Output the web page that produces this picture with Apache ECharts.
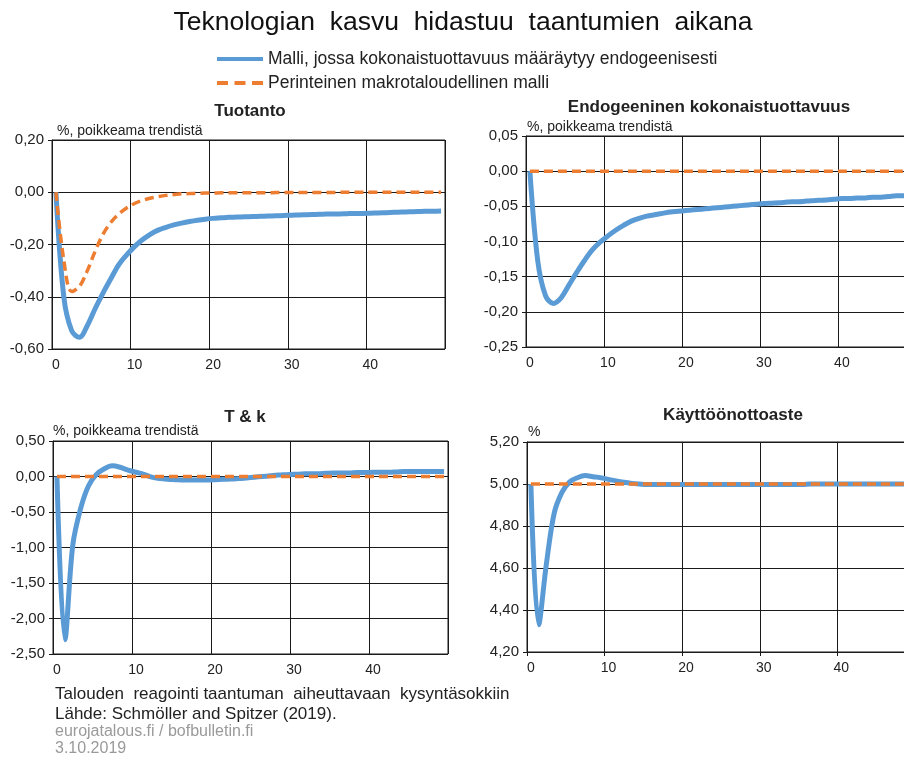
<!DOCTYPE html>
<html>
<head>
<meta charset="utf-8">
<script src="https://cdn.jsdelivr.net/npm/echarts@6/dist/echarts.min.js"></script>
<style>html,body{margin:0;padding:0;background:#fff}#c{width:904px;height:758px}</style>
</head>
<body>
<div id="c"></div>
<script>
const periods = [0,1,2,3,4,5,6,7,8,9,10,11,12,13,14,15,16,17,18,19,20,21,22,23,24,25,26,27,28,29,30,31,32,33,34,35,36,37,38,39,40,41,42,43,44,45,46,47,48,49];

const seriesNames = ['Malli, jossa kokonaistuottavuus määräytyy endogeenisesti', 'Perinteinen makrotaloudellinen malli'];

// Tuotanto
const tuotantoMalli = [0,-0.40,-0.53,-0.555,-0.51,-0.445,-0.385,-0.33,-0.277,-0.24,
  -0.208,-0.182,-0.161,-0.145,-0.134,-0.125,-0.118,-0.112,-0.107,-0.103,
  -0.100,-0.098,-0.096,-0.095,-0.094,-0.093,-0.092,-0.091,-0.090,-0.089,
  -0.088,-0.087,-0.086,-0.085,-0.084,-0.083,-0.083,-0.082,-0.081,-0.081,
  -0.080,-0.079,-0.078,-0.077,-0.076,-0.075,-0.074,-0.073,-0.073,-0.072];
const tuotantoPerint = [0,-0.26,-0.38,-0.36,-0.30,-0.225,-0.16,-0.115,-0.083,-0.06,
  -0.043,-0.031,-0.023,-0.017,-0.012,-0.009,-0.006,-0.005,-0.004,-0.003,
  -0.003,-0.002,-0.002,-0.002,-0.002,-0.002,-0.002,-0.002,-0.001,-0.001,
  -0.001,-0.001,-0.001,-0.001,-0.001,-0.001,0,0,0,0,
  0,0,0,0,0,0,0,0,0,0];

// Endogeeninen kokonaistuottavuus
const endogMalli = [0,-0.127,-0.177,-0.188,-0.180,-0.162,-0.144,-0.127,-0.112,-0.101,
  -0.092,-0.084,-0.077,-0.071,-0.067,-0.064,-0.062,-0.060,-0.058,-0.057,
  -0.056,-0.055,-0.054,-0.053,-0.052,-0.051,-0.050,-0.049,-0.048,-0.047,
  -0.046,-0.0455,-0.045,-0.044,-0.0435,-0.043,-0.042,-0.0415,-0.041,-0.040,
  -0.039,-0.039,-0.038,-0.038,-0.037,-0.037,-0.036,-0.035,-0.035,-0.034];
const endogPerint = [0,0,0,0,0,0,0,0,0,0,0,0,0,0,0,0,0,0,0,0,0,0,0,0,0,
  0,0,0,0,0,0,0,0,0,0,0,0,0,0,0,0,0,0,0,0,0,0,0,0,0];

// T & k
const tkMalli = [0,-2.30,-0.97,-0.45,-0.13,0.03,0.11,0.15,0.13,0.09,
  0.06,0.03,-0.01,-0.03,-0.04,-0.045,-0.05,-0.05,-0.05,-0.05,
  -0.045,-0.04,-0.035,-0.03,-0.02,-0.01,0.0,0.01,0.02,0.025,
  0.03,0.035,0.04,0.04,0.045,0.05,0.05,0.05,0.055,0.055,
  0.06,0.06,0.06,0.065,0.07,0.07,0.07,0.07,0.07,0.07];
const tkPerint = [0,0,0,0,0,0,0,0,0,0,0,0,0,0,0,0,0,0,0,0,0,0,0,0,0,
  0,0,0,0,0,0,0,0,0,0,0,0,0,0,0,0,0,0,0,0,0,0,0,0,0];

// Käyttöönottoaste
const kayttoMalli = [5.00,4.33,4.62,4.86,4.96,5.01,5.03,5.04,5.035,5.03,
  5.022,5.015,5.008,5.003,5.0,4.998,4.998,4.998,4.998,4.998,
  4.998,4.998,4.998,4.998,4.998,4.998,4.998,4.998,4.998,4.998,
  4.998,4.998,4.998,4.998,4.998,4.998,5.0,5.0,5.0,5.0,
  5.0,5.0,5.0,5.0,5.0,5.0,5.0,5.0,5.0,5.0];
const kayttoPerint = [5,5,5,5,5,5,5,5,5,5,5,5,5,5,5,5,5,5,5,5,5,5,5,5,5,
  5,5,5,5,5,5,5,5,5,5,5,5,5,5,5,5,5,5,5,5,5,5,5,5,5];

const yTicks = [
  {min:-0.6, max:0.2, interval:0.2},
  {min:-0.25, max:0.05, interval:0.05},
  {min:-2.5, max:0.5, interval:0.5},
  {min:4.2, max:5.2, interval:0.2}
];

const panels = [
  [tuotantoMalli, tuotantoPerint],
  [endogMalli, endogPerint],
  [tkMalli, tkPerint],
  [kayttoMalli, kayttoPerint]
];

const FONT = "'Liberation Sans', Arial, sans-serif";
const BLUE = '#5B9BD5', ORANGE = '#ED7D31', LINE = '#1a1a1a';

const gridBoxes = [
  {left:52, right:459, top:140, bottom:409},
  {left:526, right:-12, top:136, bottom:411},
  {left:53, right:456, top:441, bottom:104},
  {left:527, right:-11, top:442, bottom:106}
];

const grid = gridBoxes.map(g => Object.assign({
  show:true, borderColor:LINE, borderWidth:1, backgroundColor:'transparent',
  containLabel:false, outerBoundsMode:'none'
}, g));

const xAxis = gridBoxes.map((g,i) => ({
  type:'category', gridIndex:i, data:periods, boundaryGap:true,
  axisLine:{show:true, lineStyle:{color:LINE, width:1}},
  axisTick:{show:true, interval:9, length:4, lineStyle:{color:LINE}},
  axisLabel:{interval:9, margin:9, fontSize:14, color:'#222', fontFamily:FONT},
  splitLine:{show:true, interval:9, lineStyle:{color:LINE, width:1}}
}));

const yAxis = yTicks.map((t,i) => ({
  type:'value', gridIndex:i, min:t.min, max:t.max, interval:t.interval,
  axisLine:{show:true, onZero:false, lineStyle:{color:LINE, width:1}},
  axisTick:{show:true, length:4, lineStyle:{color:LINE}},
  axisLabel:{fontSize:15, color:'#222', fontFamily:FONT, margin:8,
    formatter: v => v.toFixed(2).replace('.', ',')},
  splitLine:{show:true, lineStyle:{color:LINE, width:1}}
}));

const series = [];
panels.forEach((p,i) => {
  series.push({
    name:seriesNames[0], type:'line', xAxisIndex:i, yAxisIndex:i, data:p[0],
    symbol:'none', smooth:0.35, z:3,
    lineStyle:{color:BLUE, width:5}, itemStyle:{color:BLUE}
  });
  series.push({
    name:seriesNames[1], type:'line', xAxisIndex:i, yAxisIndex:i, data:p[1],
    symbol:'none', smooth:0.35, z:4,
    lineStyle:{color:ORANGE, width:3.5, type:[9,5]}, itemStyle:{color:ORANGE}
  });
});

function txt(x, y, text, size, opts) {
  return {
    type:'text', x:x, y:y,
    style:Object.assign({text:text, fontSize:size, fontFamily:FONT, fill:'#222',
      textAlign:'left', textVerticalAlign:'middle', verticalAlign:'middle'}, (opts||{}))
  };
}

const graphic = [
  txt(463, 23, 'Teknologian  kasvu  hidastuu  taantumien  aikana', 26.5, {textAlign:'center', fill:'#111'}),
  txt(250, 111, 'Tuotanto', 17, {textAlign:'center', fontWeight:'bold'}),
  txt(709, 107, 'Endogeeninen kokonaistuottavuus', 17, {textAlign:'center', fontWeight:'bold'}),
  txt(245, 417, 'T & k', 17, {textAlign:'center', fontWeight:'bold'}),
  txt(733, 415, 'Käyttöönottoaste', 17, {textAlign:'center', fontWeight:'bold'}),
  txt(57, 131, '%, poikkeama trendistä', 14),
  txt(527, 127, '%, poikkeama trendistä', 14),
  txt(53, 431, '%, poikkeama trendistä', 14),
  txt(528, 432, '%', 14),
  txt(55, 694, 'Talouden  reagointi taantuman  aiheuttavaan  kysyntäsokkiin', 17),
  txt(55, 714, 'Lähde: Schmöller and Spitzer (2019).', 17),
  txt(55, 732, 'eurojatalous.fi / bofbulletin.fi', 16, {fill:'#9a9a9a'}),
  txt(55, 749, '3.10.2019', 16, {fill:'#9a9a9a'})
];

const chart = echarts.init(document.getElementById('c'), null, {renderer:'canvas'});
chart.setOption({
  animation:false,
  backgroundColor:'#fff',
  legend:{
    data:[
      {name:seriesNames[0], icon:'path://M0,0h46v4h-46z'},
      {name:seriesNames[1], icon:'path://M0,0h11v4h-11zM17.5,0h11v4h-11zM35,0h11v4h-11z'}
    ],
    orient:'vertical', left:212, top:45,
    itemWidth:46, itemHeight:4, itemGap:6,
    textStyle:{fontSize:17.5, lineHeight:18, color:'#222', fontFamily:FONT}
  },
  grid:grid, xAxis:xAxis, yAxis:yAxis, series:series, graphic:graphic
});
</script>
</body>
</html>
